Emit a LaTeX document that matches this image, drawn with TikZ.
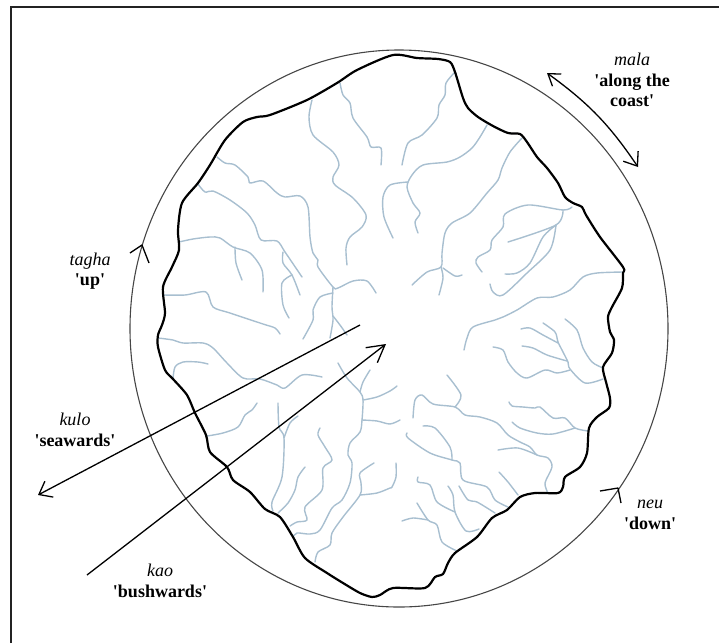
\documentclass[tikz,border=0pt]{standalone}
\usepackage{fontspec}
\newfontfamily\labfont{Liberation Serif}
\definecolor{riverblue}{RGB}{168,191,208}
\definecolor{rimgrey}{RGB}{70,70,70}
\definecolor{framegrey}{RGB}{35,35,35}
\usetikzlibrary{arrows.meta,positioning}
\tikzset{
  river/.style={riverblue,line width=1.4pt,line join=round,line cap=round},
  coastline/.style={black,line width=2.2pt,line join=round},
  rim/.style={rimgrey,line width=1.1pt},
  barb/.style={black,line width=1.3pt,line join=round},
  lab/.style={inner sep=0pt,align=center,font=\labfont\fontsize{18}{20.5}\selectfont}
}
\begin{document}
\begin{tikzpicture}[x=1pt,y=-1pt]
  \useasboundingbox (0,0) rectangle (719,643);
  \draw[framegrey,line width=2pt] (11,643)--(11,7)--(719,7);
  % rivers, north side
  \draw[river] plot[smooth] coordinates {(340,83)(343,95)(350,103)(353,118)(367,137)(371,147)(381,148)(381,165)};
  \draw[river] plot[smooth] coordinates {(312,100)(309,117)(313,135)(333,152)(339,165)(333,177)(335,185)(353,198)(366,215)(362,227)(350,237)(346,248)(347,265)};
  \draw[river] plot[smooth] coordinates {(217,157)(225,163)(235,165)(248,177)(250,183)(263,181)(277,193)(285,197)(300,196)(308,207)(310,237)(313,253)(318,260)(318,267)(333,287)(338,288)(353,281)(367,281)(376,293)};
  \draw[river] plot[smooth] coordinates {(333,287)(332,307)(333,320)(330,338)};
  \draw[river] plot[smooth] coordinates {(333,293)(320,297)(313,310)(313,320)(303,339)};
  \draw[river] plot[smooth] coordinates {(333,316)(340,325)(347,335)};
  \draw[river] plot[smooth] coordinates {(198,184)(205,192)(213,191)(230,200)(247,213)(255,225)(261,240)(277,241)(285,252)(302,277)};
  \draw[river] plot[smooth] coordinates {(283,252)(283,263)(292,275)(300,295)};
  \draw[river] plot[smooth] coordinates {(292,275)(282,283)(283,305)(289,318)};
  \draw[river] plot[smooth] coordinates {(179,242)(193,239)(210,237)(220,238)(233,247)(250,253)(262,270)(263,292)};
  \draw[river] plot[smooth] coordinates {(235,247)(236,263)(242,280)};
  \draw[river] plot[smooth] coordinates {(164,295)(185,295)(206,292)(213,307)(230,313)(263,324)(275,328)(280,334)};
  \draw[river] plot[smooth] coordinates {(455,72)(446,83)(445,95)(439,105)(437,118)(422,135)(408,143)(402,165)};
  \draw[river] plot[smooth] coordinates {(487,125)(480,137)(472,148)(460,157)(447,162)(423,165)(412,175)(407,187)(413,203)(420,213)(415,222)(418,233)};
  \draw[river] plot[smooth] coordinates {(408,182)(390,185)(383,197)(384,217)(393,238)};
  \draw[river] plot[smooth] coordinates {(522,138)(510,152)(502,168)(498,180)(487,193)(470,213)(452,223)(445,233)(442,253)(441,267)(427,272)(412,285)};
  \draw[river] plot[smooth] coordinates {(441,267)(443,278)(439,295)};
  \draw[river] plot[smooth] coordinates {(443,268)(455,276)(462,275)};
  % rivers, east side
  \draw[river] plot[smooth] coordinates {(572,207)(563,210)(528,205)(505,214)(503,227)(492,240)(490,250)(478,257)(476,263)(482,272)};
  \draw[river] plot[smooth] coordinates {(563,210)(556,225)(508,242)};
  \draw[river] plot[smooth] coordinates {(556,225)(543,237)(530,263)(517,273)(505,274)};
  \draw[river] plot[smooth] coordinates {(556,225)(550,250)(527,273)(503,295)(493,292)(490,284)};
  \draw[river] plot[smooth] coordinates {(623,272)(597,273)(583,277)(570,290)(553,297)(537,298)(517,310)(503,317)(495,320)(473,327)(467,338)(464,350)};
  \draw[river] plot[smooth] coordinates {(603,368)(592,362)(583,348)(577,330)(565,319)};
  \draw[river] plot[smooth] coordinates {(603,379)(585,383)(570,369)(568,362)(563,352)(558,342)(555,332)(543,323)};
  \draw[river] plot[smooth] coordinates {(567,361)(547,355)(533,348)(522,346)};
  \draw[river] plot[smooth] coordinates {(558,343)(543,335)(530,328)(521,329)};
  \draw[river] plot[smooth] coordinates {(570,370)(557,373)(545,370)(527,378)(517,373)(508,362)(503,350)(493,347)};
  \draw[river] plot[smooth] coordinates {(588,431)(575,428)(565,418)(553,418)(540,407)(535,408)(523,407)(512,406)(509,402)};
  \draw[river] plot[smooth] coordinates {(575,428)(553,434)(537,433)(520,428)(512,422)};
  % rivers, south side
  \draw[river] plot[smooth] coordinates {(548,493)(545,483)(552,467)(548,458)(537,455)(530,447)(520,442)(508,435)(497,423)(480,417)(465,415)(455,407)(433,404)(422,395)(415,400)(413,418)};
  \draw[river] plot[smooth] coordinates {(455,407)(461,395)(447,375)};
  \draw[river] plot[smooth] coordinates {(537,455)(518,448)(498,450)};
  \draw[river] plot[smooth] coordinates {(518,495)(508,482)(499,472)};
  \draw[river] plot[smooth] coordinates {(508,507)(495,500)(487,487)(463,480)(460,463)(452,460)(430,453)(408,438)(407,433)};
  \draw[river] plot[smooth] coordinates {(452,460)(450,447)(435,428)(423,426)};
  \draw[river] plot[smooth] coordinates {(495,513)(477,502)(468,500)(459,486)};
  \draw[river] plot[smooth] coordinates {(479,529)(466,531)(455,512)(453,495)(448,486)};
  \draw[river] plot[smooth] coordinates {(455,512)(437,502)(430,485)(418,482)(418,477)};
  \draw[river] plot[smooth] coordinates {(457,551)(442,542)(437,525)(428,520)(417,503)};
  \draw[river] plot[smooth] coordinates {(428,520)(413,518)(402,521)};
  \draw[river] plot[smooth] coordinates {(338,363)(347,378)(360,392)(363,400)(362,420)(360,432)(350,443)(348,455)(352,463)(350,483)(342,500)(332,508)(320,530)(310,534)(297,533)(293,537)};
  \draw[river] plot[smooth] coordinates {(370,370)(363,382)(360,392)};
  \draw[river] plot[smooth] coordinates {(363,400)(377,397)(390,391)(397,386)};
  \draw[river] plot[smooth] coordinates {(362,420)(377,421)(390,424)(400,420)};
  \draw[river] plot[smooth] coordinates {(315,562)(318,552)(330,545)(332,533)(343,517)(360,495)(361,483)(360,473)(374,463)};
  \draw[river] plot[smooth] coordinates {(360,495)(377,493)(390,488)(392,487)(396,477)(396,463)};
  \draw[river] plot[smooth] coordinates {(290,526)(297,522)(307,520)(305,507)(322,490)(323,468)(332,460)(325,447)(318,435)(320,428)};
  \draw[river] plot[smooth] coordinates {(278,513)(288,503)(295,490)(298,477)(305,467)};
  \draw[river] plot[smooth] coordinates {(273,511)(272,502)(282,477)(284,438)(279,427)(278,403)};
  \draw[river] plot[smooth] coordinates {(284,438)(290,423)(298,416)};
  % rivers, west side
  \draw[river] plot[smooth] coordinates {(158,338)(173,340)(183,343)(203,343)(213,348)(227,363)(243,378)(260,379)(277,385)(285,388)(302,375)(322,377)};
  \draw[river] plot[smooth] coordinates {(173,379)(175,367)(183,362)(198,362)(208,364)};
  \draw[river] plot[smooth] coordinates {(207,436)(223,433)(238,427)(245,415)(252,410)(257,403)};
  % coast and rim
  \draw[rim] (399,328.5) ellipse (269 and 278.5);
  \draw[coastline] plot[smooth cycle,tension=0.45] coordinates {(393,55)(417,58)(438,59)(450,62)(455,72)(463,98)(468,108)(478,117)(493,126)(508,133)(520,134)(527,142)(537,157)(547,168)(558,183)(565,197)(573,203)(582,207)(586,215)(600,237)(623,267)(623,273)(622,288)(612,307)(608,317)(610,332)(614,340)(612,353)(603,367)(606,382)(610,398)(609,408)(597,417)(589,428)(587,453)(580,467)(565,477)(563,487)(558,493)(535,493)(520,497)(507,510)(492,518)(477,537)(455,553)(448,563)(443,574)(435,577)(425,588)(393,588)(380,595)(372,597)(360,593)(343,583)(327,573)(305,558)(293,537)(280,517)(265,509)(250,492)(233,480)(227,467)(210,452)(206,435)(195,413)(187,395)(173,379)(165,370)(158,347)(158,335)(162,325)(165,313)(163,287)(172,267)(179,250)(178,230)(182,203)(198,183)(210,165)(225,140)(243,122)(257,117)(270,115)(307,100)(337,83)(357,70)};
  % direction arrows
  \coordinate (kulotail) at (360,325);
  \coordinate (kulotip) at (38,495);
  \coordinate (kaotail) at (87,575);
  \coordinate (kaotip) at (386,344);
  \coordinate (malaup) at (547,73);
  \coordinate (maladown) at (638,167);
  \coordinate (taghaleft) at (130,253);
  \coordinate (taghatip) at (142,245);
  \coordinate (taghaback) at (149,263);
  \coordinate (neuleft) at (600,491);
  \coordinate (neutip) at (618,488);
  \coordinate (neuback) at (621,503);
  \draw[barb,-{Straight Barb[length=11.5pt,width=18pt]}] (kulotail)--(kulotip);
  \draw[barb,-{Straight Barb[length=17pt,width=19pt]}] (kaotail)--(kaotip);
  \draw[barb,{Straight Barb[length=11pt,width=15pt]}-{Straight Barb[length=12pt,width=18pt]}] (malaup) to[bend left=10] (maladown);
  \draw[barb] (taghaleft)--(taghatip)--(taghaback);
  \draw[barb] (neuleft)--(neutip)--(neuback);
  % labels
  \node[lab] (malalab) at (632,80) {\textit{mala}\\\textbf{'along the}\\\textbf{coast'}};
  \node[lab] (taghalab) at (90,271) {\textit{tagha}\\\textbf{'up'}};
  \node[lab] (kulolab) at (75,430) {\textit{kulo}\\\textbf{'seawards'}};
  \node[lab] (kaolab) at (160,581) {\textit{kao}\\\textbf{'bushwards'}};
  \node[lab] (neulab) at (650,515) {\textit{neu}\\\textbf{'down'}};
\end{tikzpicture}
\end{document}
